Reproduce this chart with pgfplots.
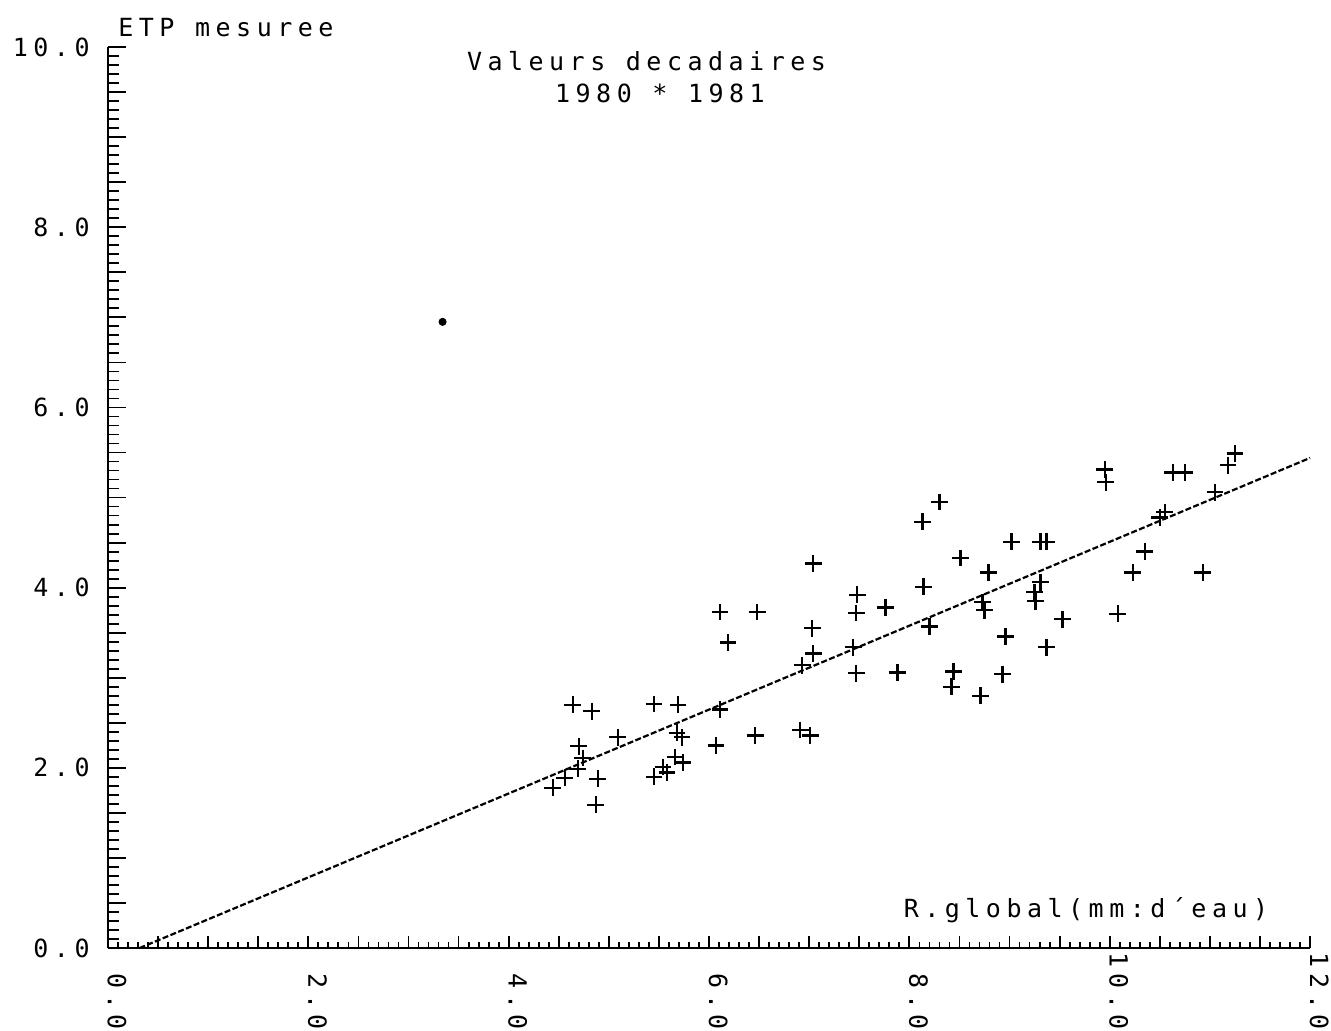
\documentclass[border=0pt]{standalone}
\usepackage{fontspec}
\usepackage{pgfplots}
\pgfplotsset{compat=1.18}
% plotter-like lettering: monospaced sans with wide tracking
\newfontfamily\plotterfont[LetterSpace=22]{DejaVu Sans Mono}
\newcommand\plotter{\plotterfont\fontsize{12.5}{14}\selectfont}

\begin{document}
\begin{tikzpicture}
\begin{axis}[
  scale only axis,
  width=601pt, height=450.5pt,
  xmin=0, xmax=12, ymin=0, ymax=10,
  enlargelimits=false,
  axis lines=left,
  axis line style={-, line width=1.3pt, black},
  tick align=inside,
  xtick={0,0.5,...,12},
  ytick={0,0.5,...,10},
  minor tick num=4,
  major tick length=8pt,
  minor tick length=5pt,
  tick style={line width=0.9pt, black},
  xtick style={/pgfplots/major tick length=6pt, /pgfplots/minor tick length=3.2pt},
  ytick style={/pgfplots/major tick length=9pt, /pgfplots/minor tick length=5.5pt},
  xticklabels={0.0,,,,2.0,,,,4.0,,,,6.0,,,,8.0,,,,10.0,,,,12.0},
  yticklabels={0.0,,,,2.0,,,,4.0,,,,6.0,,,,8.0,,,,10.0},
  xticklabel style={font=\plotter, inner sep=0pt, anchor=base east, rotate=-90},
  yticklabel style={font=\plotter, inner sep=0pt, anchor=east},
  xticklabel shift=41pt,
  yticklabel shift=9pt,
  clip=false,
]
% ten-day values, 1980 and 1981
\addplot[only marks, mark=+, mark size=4.2pt, line width=1.2pt, black] coordinates {
  (4.44,1.78) (4.56,1.89) (4.69,1.99) (4.74,2.11) (4.70,2.24)
  (4.64,2.70) (4.83,2.63) (4.89,1.88) (4.87,1.59) (5.09,2.34)
  (5.45,2.71) (5.69,2.70) (5.45,1.90) (5.54,2.01) (5.58,1.95)
  (5.68,2.39) (5.73,2.34) (5.66,2.12) (5.74,2.06) (6.07,2.25)
  (6.11,2.65) (6.11,3.73) (6.48,3.73) (6.19,3.39) (6.46,2.36)
  (6.91,2.42) (7.01,2.36) (6.93,3.14) (7.03,3.55) (7.04,3.27)
  (7.04,4.27) (7.48,3.92) (7.47,3.72) (7.76,3.78) (7.44,3.34)
  (7.47,3.05) (7.88,3.06) (8.13,4.73) (8.30,4.95) (8.14,4.01)
  (8.20,3.57) (8.51,4.33) (8.79,4.17) (8.73,3.84) (8.75,3.75)
  (8.44,3.07) (8.42,2.90) (8.93,3.04) (8.71,2.80) (8.96,3.46)
  (9.02,4.51) (9.31,4.51) (9.37,4.51) (9.31,4.06) (9.25,3.95)
  (9.26,3.85) (9.53,3.65) (9.37,3.34) (9.95,5.31) (9.96,5.17)
  (10.63,5.28) (10.75,5.28) (11.25,5.49) (11.18,5.36) (11.05,5.06)
  (10.55,4.84) (10.50,4.78) (10.35,4.40) (10.23,4.17) (10.93,4.17)
  (10.08,3.71)
};
% fitted line
\addplot[black, line width=1.1pt, dash pattern=on 3pt off 1.2pt] coordinates {(0.314,0) (12,5.44)};
% ink blot
\addplot[only marks, mark=*, mark size=1.8pt, black] coordinates {(3.34,6.95)};

\node[anchor=base west, inner sep=0pt, font=\plotter] at (axis cs:0.10,10.12) {ETP mesuree};
\node[anchor=base west, inner sep=0pt, font=\plotter] at (axis cs:3.58,9.745) {Valeurs decadaires};
\node[anchor=base west, inner sep=0pt, font=\plotter] at (axis cs:4.46,9.38) {1980 * 1981};
\node[anchor=base west, inner sep=0pt, font=\plotter] at (axis cs:7.94,0.344) {R.global(mm:d´eau)};

\coordinate (bbl) at (axis cs:-1.078,-0.910);
\coordinate (btr) at (axis cs:12.209,10.522);
\end{axis}
\pgfresetboundingbox
\path[use as bounding box] (bbl) rectangle (btr);
\end{tikzpicture}
\end{document}
